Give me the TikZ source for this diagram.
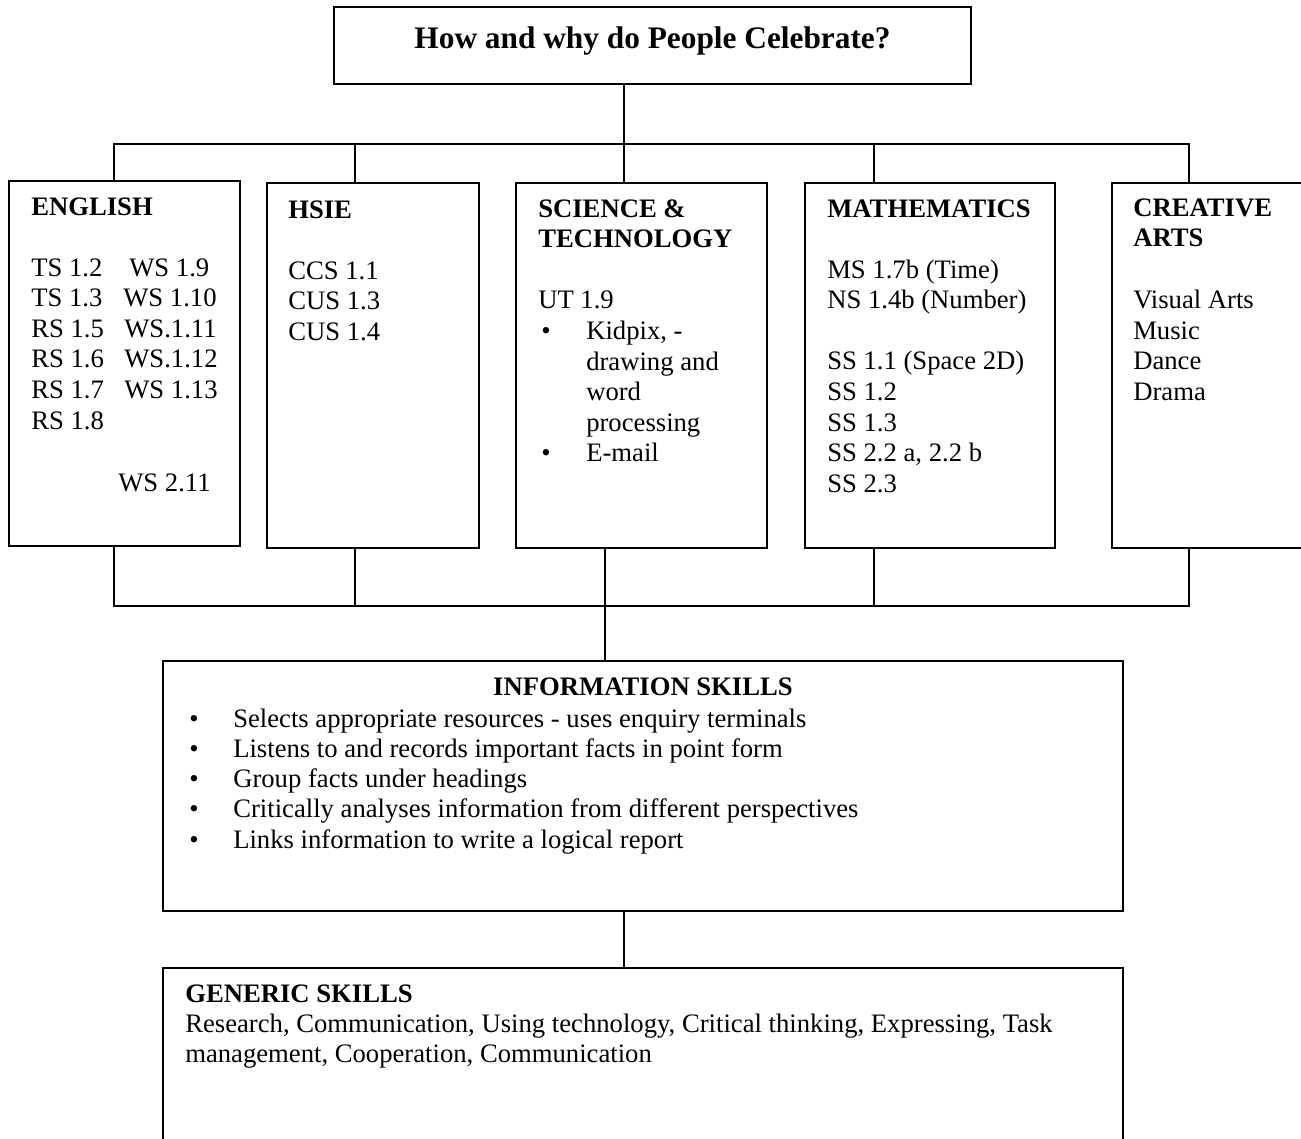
\documentclass[tikz,border=0pt]{standalone}
\usepackage{fontspec}
\setmainfont{Liberation Serif}
\usetikzlibrary{fit}
\begin{document}
\begin{tikzpicture}[x=0.75pt,y=-0.75pt,
  box/.style={draw, line width=1.5pt, inner sep=0pt, rectangle},
  conn/.style={line width=1.5pt, line join=miter},
  body/.style={anchor=base west, inner sep=0pt, font=\fontsize{20}{23}\selectfont},
  head/.style={anchor=base west, inner sep=0pt, font=\fontsize{20}{23}\selectfont\bfseries},
]
\useasboundingbox (0,0) rectangle (1301,1138);
\clip (0,0) rectangle (1301,1138);

% boxes
\node[box, fit={(334,7) (971,84)}] (title) {};
\node[box, fit={(9,181) (240,546)}] (eng) {};
\node[box, fit={(267,183) (479,548)}] (hsie) {};
\node[box, fit={(516,183) (767,548)}] (sci) {};
\node[box, fit={(805,183) (1055,548)}] (math) {};
\node[box, fit={(1112,183) (1320,548)}] (arts) {};
\node[box, fit={(163,661) (1123,911)}] (info) {};
\node[box, fit={(163,968) (1123,1160)}] (gen) {};

% junction coordinates
\coordinate (tE) at (114,144);
\coordinate (tH) at (355,144);
\coordinate (tS) at (624,144);
\coordinate (tM) at (874,144);
\coordinate (tA) at (1189,144);
\coordinate (bE) at (114,606);
\coordinate (bH) at (355,606);
\coordinate (bS) at (605,606);
\coordinate (bM) at (874,606);
\coordinate (bA) at (1189,606);
\coordinate (gS) at (624,930);

% connectors
\draw[conn] (eng.north -| tE) -- (tE) -- (tA) -- (arts.north -| tA);
\draw[conn] (title.south -| tS) -- (sci.north -| tS);
\draw[conn] (tH) -- (hsie.north -| tH);
\draw[conn] (tM) -- (math.north -| tM);
\draw[conn] (eng.south -| bE) -- (bE) -- (bA) -- (arts.south -| bA);
\draw[conn] (hsie.south -| bH) -- (bH);
\draw[conn] (sci.south -| bS) -- (info.north -| bS);
\draw[conn] (math.south -| bM) -- (bM);
\draw[conn] (info.south -| gS) -- (gen.north -| gS);

% title
\node[anchor=base, inner sep=0pt, font=\fontsize{23.5}{28}\selectfont\bfseries] (titletext) at (652.5,49) {How and why do People Celebrate?};

% English
\node[head] (engh) at (31,215) {ENGLISH};
\foreach \t [count=\i] in {TS 1.2, TS 1.3, RS 1.5, RS 1.6, RS 1.7, RS 1.8}
  \node[body] (engL\i) at (31,{276+30.6*(\i-1)}) {\t};
\node[body] (engR1) at (129,276) {WS 1.9};
\node[body] (engR2) at (123,306.6) {WS 1.10};
\node[body] (engR3) at (124,337.2) {WS.1.11};
\node[body] (engR4) at (124,367.8) {WS.1.12};
\node[body] (engR5) at (124,398.4) {WS 1.13};
\node[body] (engR6) at (118,491) {WS 2.11};

% HSIE
\node[head] (hsieh) at (288,218) {HSIE};
\foreach \t [count=\i] in {CCS 1.1, CUS 1.3, CUS 1.4}
  \node[body] (hsieL\i) at (288,{279+30.6*(\i-1)}) {\t};

% Science & Technology
\node[head] (scih1) at (538,217) {SCIENCE \&};
\node[head] (scih2) at (538,247.6) {TECHNOLOGY};
\node[body] (sciL1) at (538,308.8) {UT 1.9};
\node[body] (scib1) at (541,339.4) {\textbullet};
\node[body] (sciL2) at (586,339.4) {Kidpix, -};
\node[body] (sciL3) at (586,370) {drawing and};
\node[body] (sciL4) at (586,400.6) {word};
\node[body] (sciL5) at (586,431.2) {processing};
\node[body] (scib2) at (541,461.8) {\textbullet};
\node[body] (sciL6) at (586,461.8) {E-mail};

% Mathematics
\node[head] (mathh) at (827,217) {MATHEMATICS};
\node[body] (mathL1) at (827,278) {MS 1.7b (Time)};
\node[body] (mathL2) at (827,308.6) {NS 1.4b (Number)};
\foreach \t [count=\i] in {SS 1.1 (Space 2D), SS 1.2, SS 1.3, {SS 2.2 a, 2.2 b}, SS 2.3}
  \node[body] (mathS\i) at (827,{369.8+30.6*(\i-1)}) {\t};

% Creative Arts
\node[head] (artsh1) at (1133,216) {CREATIVE};
\node[head] (artsh2) at (1133,246.6) {ARTS};
\foreach \t [count=\i] in {Visual Arts, Music, Dance, Drama}
  \node[body] (artsL\i) at (1133,{308.5+30.6*(\i-1)}) {\t};

% Information skills
\node[anchor=base, inner sep=0pt, font=\fontsize{20}{23}\selectfont\bfseries] (infoh) at (643,695) {INFORMATION SKILLS};
\foreach \t [count=\i] in {Selects appropriate resources - uses enquiry terminals,
  Listens to and records important facts in point form,
  Group facts under headings,
  Critically analyses information from different perspectives,
  Links information to write a logical report} {
  \node[body] (infob\i) at (189,{727+30.3*(\i-1)}) {\textbullet};
  \node[body] (infoL\i) at (233,{727+30.3*(\i-1)}) {\t};
}

% Generic skills
\node[head] (genh) at (185,1002) {GENERIC SKILLS};
\node[body] (genL1) at (185,1032) {Research, Communication, Using technology, Critical thinking, Expressing, Task};
\node[body] (genL2) at (185,1062) {management, Cooperation, Communication};
\end{tikzpicture}
\end{document}
